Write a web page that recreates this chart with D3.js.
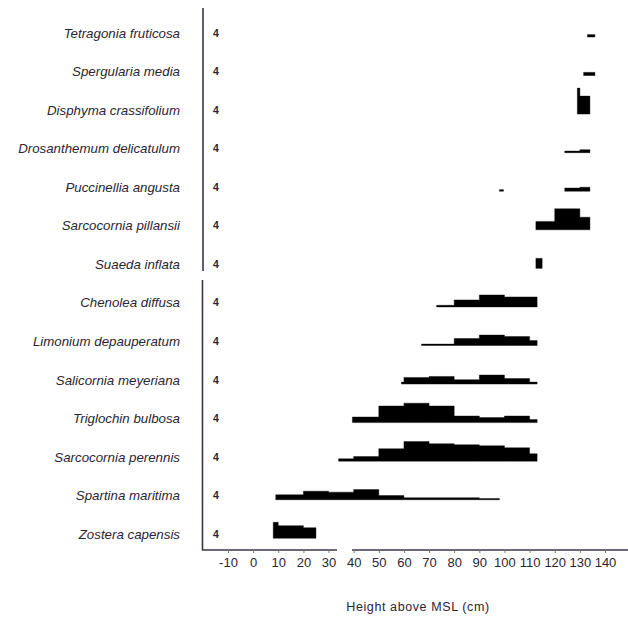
<!DOCTYPE html>
<html><head><meta charset="utf-8">
<script src="https://cdn.jsdelivr.net/npm/d3@7"></script>
<style>
html,body{margin:0;padding:0;background:#fff;}
svg{display:block;}
text{font-family:"Liberation Sans",Arial,Helvetica,sans-serif;fill:#2a2533;}
</style></head>
<body>
<svg id="chart" width="628" height="621"></svg>
<script>
// Species (top to bottom)
const species = [
  "Tetragonia fruticosa","Spergularia media","Disphyma crassifolium","Drosanthemum delicatulum",
  "Puccinellia angusta","Sarcocornia pillansii","Suaeda inflata","Chenolea diffusa",
  "Limonium depauperatum","Salicornia meyeriana","Triglochin bulbosa","Sarcocornia perennis",
  "Spartina maritima","Zostera capensis"
];
// Number label shown per row
const counts = [4,4,4,4,4,4,4,4,4,4,4,4,4,4];
// Abundance profiles: [from height, to height, abundance]
const tetragonia   = [[133,136,1.2]];
const spergularia  = [[131.5,136,1.6]];
const disphyma     = [[129,130,13],[130,134,9]];
const drosanthemum = [[124,130,0.8],[130,134,1.5]];
const puccinellia  = [[98,99.6,0.8],[124,130,1.6],[130,134,2]];
const sarcPillansii= [[112.5,120,4.2],[120,130,10.5],[130,134,6.3]];
const suaeda       = [[112.5,115,5]];
const chenolea     = [[73,80,0.8],[80,90,3.5],[90,100,6],[100,113,5]];
const limonium     = [[67,80,0.7],[80,90,3.5],[90,100,5.2],[100,110,4.5],[110,113,2.5]];
const salicornia   = [[59,60,1],[60,70,3.3],[70,80,3.8],[80,90,2.2],[90,100,4.5],[100,110,2.8],[110,113,1]];
const triglochin   = [[39.5,50,2.8],[50,60,8.3],[60,70,9.7],[70,80,8.3],[80,90,3.3],[90,100,2.5],[100,110,3.3],[110,113,1.5]];
const sarcPerennis = [[34,40,1.2],[40,50,2.3],[50,60,6.2],[60,70,9.8],[70,80,8.7],[80,90,8.2],[90,100,7.7],[100,110,6.7],[110,113,3.7]];
const spartina     = [[9,20,2.5],[20,30,4.3],[30,40,3.8],[40,50,5.1],[50,60,2.1],[60,90,1],[90,98,0.5]];
const zostera      = [[8,10,8],[10,20,6.3],[20,25,5.3]];
const profiles = [tetragonia,spergularia,disphyma,drosanthemum,puccinellia,sarcPillansii,suaeda,
  chenolea,limonium,salicornia,triglochin,sarcPerennis,spartina,zostera];
const tickValues = [-10,0,10,20,30,40,50,60,70,80,90,100,110,120,130,140];
const xTitle = "Height above MSL (cm)";

const svg = d3.select("#chart");
const x = d3.scaleLinear().domain([-10,140]).range([228,605]);
const y = d3.scalePoint().domain(species).range([32.5,533.8]);
const w = d3.scaleLinear().domain([0,10]).range([0,20]);
const axisColor = "#3d3348";
const baseY = 550, axisX = 203;

// vertical axis line with small break
svg.append("line").attr("x1",axisX).attr("x2",axisX).attr("y1",8).attr("y2",271)
  .attr("stroke",axisColor).attr("stroke-width",1.6);
svg.append("line").attr("x1",axisX-0.5).attr("x2",axisX-0.5).attr("y1",280).attr("y2",baseY)
  .attr("stroke",axisColor).attr("stroke-width",1.6);
// horizontal axis line with break between 30 and 40
svg.append("line").attr("x1",axisX-1).attr("x2",337).attr("y1",baseY).attr("y2",baseY)
  .attr("stroke",axisColor).attr("stroke-width",1.6);
svg.append("line").attr("x1",352).attr("x2",628).attr("y1",baseY).attr("y2",baseY)
  .attr("stroke",axisColor).attr("stroke-width",1.6);

// axis ticks/labels
const ax = svg.append("g").attr("transform",`translate(0,${baseY})`)
  .call(d3.axisBottom(x).tickValues(tickValues).tickFormat(d=>String(d))
    .tickSize(3).tickSizeOuter(0).tickPadding(5));
ax.select(".domain").remove();
ax.selectAll(".tick line").attr("stroke","#777").attr("stroke-width",1);
ax.selectAll(".tick text").style("font-size","13px").attr("fill","#2a2533")
  .style("font-family","'Liberation Sans',Arial,sans-serif");

// axis title
svg.append("text").attr("x",418).attr("y",611).attr("text-anchor","middle")
  .style("font-size","12.5px").style("letter-spacing","0.6px").text(xTitle);

// species labels
svg.append("g").selectAll("text").data(species).join("text")
  .attr("x",180).attr("y",d=>y(d)+5).attr("text-anchor","end")
  .style("font-size","13.3px").style("font-style","italic").text(d=>d);

// count labels
svg.append("g").selectAll("text").data(species).join("text")
  .attr("x",216).attr("y",d=>y(d)+4).attr("text-anchor","middle")
  .style("font-size","10.5px").style("font-weight","bold").text((d,i)=>counts[i]);

// profiles (bottom-aligned step areas, one path per contiguous run)
const thick = v => Math.max(1.2, w(v));
species.forEach((sp,i)=>{
  const bottom = y(sp)+4.5;
  const runs = [];
  profiles[i].forEach(seg=>{
    const last = runs[runs.length-1];
    if (last && Math.abs(last[last.length-1][1]-seg[0])<1e-6) last.push(seg);
    else runs.push([seg]);
  });
  runs.forEach(run=>{
    const pts = run.map(s=>[s[0],s[2]]);
    pts.push([run[run.length-1][1], run[run.length-1][2]]);
    const area = d3.area()
      .x(d=>x(d[0]))
      .y0(bottom)
      .y1(d=>bottom-thick(d[1]))
      .curve(d3.curveStepAfter);
    svg.append("path").attr("d",area(pts)).attr("fill","#000")
      .attr("stroke","#000").attr("stroke-width",0.4).attr("stroke-linejoin","round");
  });
});
</script>
</body></html>
